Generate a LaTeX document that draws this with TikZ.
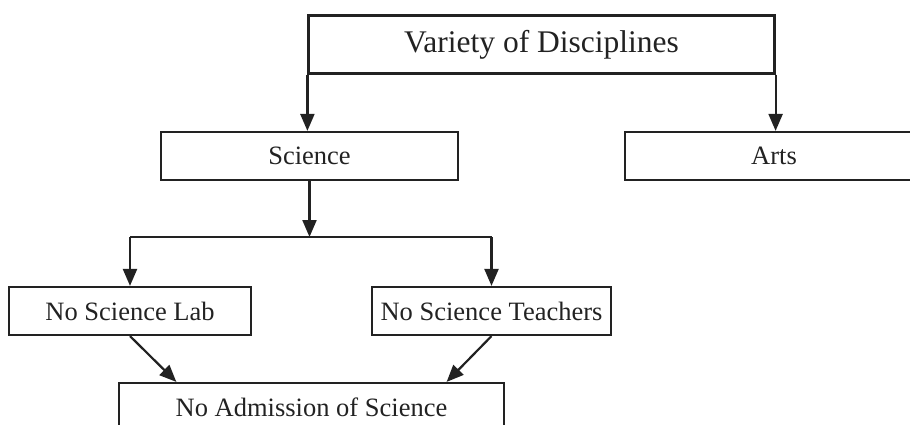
\documentclass[tikz,border=0pt]{standalone}
\usepackage{fontspec}
\setmainfont{Liberation Serif}
\usetikzlibrary{arrows.meta,calc}

\definecolor{ink}{HTML}{222222}

\tikzset{
  box/.style={draw=ink, line width=2.2pt, rectangle, inner sep=0pt,
    minimum height=48pt, text=ink, font=\fontsize{26.5}{30}\selectfont},
  link/.style={draw=ink, line width=2.2pt,
    -{Triangle[length=17pt,width=14pt]}},
  plain/.style={draw=ink, line width=2.2pt}
}

\begin{document}
\begin{tikzpicture}[x=1pt,y=-1pt]
  \useasboundingbox (0,0) rectangle (910,425);
  \clip (0,0) rectangle (910,425);

  % boxes
  \node[box, minimum width=466pt, minimum height=58pt,
        font=\fontsize{31.5}{36}\selectfont] (title) at (541.5,44.5) {Variety of Disciplines};
  \node[box, minimum width=297pt] (sci)   at (309.5,156) {Science};
  \node[box, minimum width=298pt] (arts)  at (774,156)   {Arts};
  \node[box, minimum width=242pt] (lab)   at (130,311)   {No Science Lab};
  \node[box, minimum width=239pt] (teach) at (491.5,311) {No Science Teachers};
  \node[box, minimum width=385pt] (adm)   at (311.5,407) {No Admission of Science};

  % branch point below Science
  \coordinate (split) at (309.5,237);

  % connectors
  \draw[link] (title.south west) -- (title.south west |- sci.north);
  \draw[link] (title.south east) -- (title.south east |- arts.north);
  \draw[link] (sci.south) -- (split);
  \draw[plain] (lab.north |- split) -- (teach.north |- split);
  \draw[link] (lab.north |- split) -- (lab.north);
  \draw[link] (teach.north |- split) -- (teach.north);
  \draw[link] (lab.south) -- ($(adm.north west)!0.151!(adm.north east)$);
  \draw[link] (teach.south) -- ($(adm.north west)!0.849!(adm.north east)$);
\end{tikzpicture}
\end{document}
